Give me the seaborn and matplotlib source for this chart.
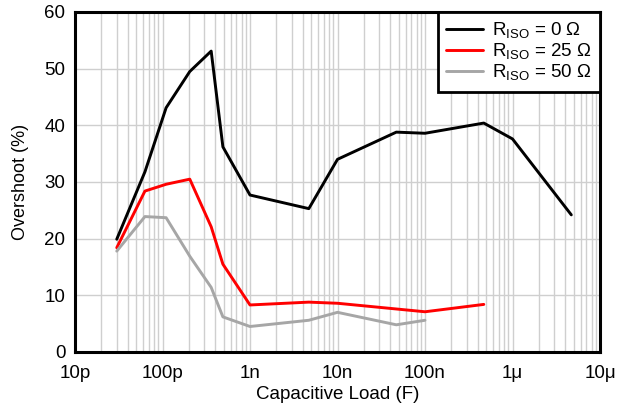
import matplotlib
matplotlib.use("Agg")
import matplotlib.pyplot as plt
import seaborn as sns
import pandas as pd
import numpy as np
from matplotlib.ticker import FixedLocator, LogLocator, NullFormatter

sns.set_theme(style="white")
plt.rcParams['font.family'] = ['Liberation Sans', 'DejaVu Sans']
plt.rcParams['mathtext.fontset'] = 'custom'
plt.rcParams['mathtext.rm'] = 'Liberation Sans'

# Data
cap_r0 = [30e-12, 63e-12, 110e-12, 205e-12, 360e-12, 490e-12, 1e-9, 4.7e-9, 10e-9, 47e-9, 100e-9, 470e-9, 1e-6, 4.7e-6]
ovs_r0 = [19.9, 31.8, 43.1, 49.5, 53.1, 36.2, 27.7, 25.3, 34.0, 38.8, 38.6, 40.4, 37.6, 24.2]

cap_r25 = [30e-12, 63e-12, 110e-12, 205e-12, 360e-12, 490e-12, 1e-9, 4.7e-9, 10e-9, 100e-9, 470e-9]
ovs_r25 = [18.4, 28.4, 29.6, 30.5, 22.1, 15.5, 8.3, 8.8, 8.6, 7.1, 8.4]

cap_r50 = [30e-12, 63e-12, 110e-12, 205e-12, 360e-12, 490e-12, 1e-9, 4.7e-9, 10e-9, 47e-9, 100e-9]
ovs_r50 = [17.8, 23.9, 23.7, 16.9, 11.4, 6.2, 4.5, 5.6, 7.0, 4.8, 5.6]

series_names = ["R$_{\\mathregular{ISO}}$ = 0 \u03a9",
                "R$_{\\mathregular{ISO}}$ = 25 \u03a9",
                "R$_{\\mathregular{ISO}}$ = 50 \u03a9"]
colors = ["#000000", "#ff0000", "#a6a6a6"]

x_ticks = [1e-11, 1e-10, 1e-9, 1e-8, 1e-7, 1e-6, 1e-5]
x_ticklabels = ["10p", "100p", "1n", "10n", "100n", "1\u03bc", "10\u03bc"]
y_ticks = [0, 10, 20, 30, 40, 50, 60]

frames = []
for name, cx, cy in zip(series_names, [cap_r0, cap_r25, cap_r50], [ovs_r0, ovs_r25, ovs_r50]):
    frames.append(pd.DataFrame({"cap": cx, "ovs": cy, "series": name}))
df = pd.concat(frames, ignore_index=True)

fig = plt.figure(figsize=(6.3, 4.16), dpi=100)
ax = fig.add_axes([75/630, 1-352/416, 525/630, 340/416])

sns.lineplot(data=df, x="cap", y="ovs", hue="series", palette=colors,
             hue_order=series_names, sort=False, estimator=None,
             linewidth=2.1, ax=ax, legend=True)

ax.set_xscale("log")
ax.set_xlim(1e-11, 1e-5)
ax.set_ylim(0, 60)
ax.xaxis.set_major_locator(FixedLocator(x_ticks))
ax.set_xticklabels(x_ticklabels)
ax.xaxis.set_minor_locator(LogLocator(base=10, subs=np.arange(2, 10), numticks=100))
ax.xaxis.set_minor_formatter(NullFormatter())
ax.set_yticks(y_ticks)
ax.grid(True, which="major", color="#cfcfcf", linewidth=1.0)
ax.grid(True, which="minor", axis="x", color="#cfcfcf", linewidth=1.0)
ax.set_axisbelow(True)
ax.tick_params(axis="both", which="both", length=0, labelsize=13.5, colors="black")
ax.tick_params(axis="x", pad=9.5)
ax.tick_params(axis="y", pad=7)
for s in ax.spines.values():
    s.set_color("black")
    s.set_linewidth(2.2)
    s.set_visible(True)

ax.set_xlabel("Capacitive Load (F)", fontsize=13.5, color="black", labelpad=3)
ax.set_ylabel("Overshoot (%)", fontsize=13, color="black", labelpad=11)

leg = ax.legend(loc="upper right", borderaxespad=0, fontsize=13.5, frameon=True,
                fancybox=False, handlelength=1.95, handletextpad=0.5,
                labelspacing=0.05, borderpad=0.45)
leg.get_frame().set_edgecolor("black")
leg.get_frame().set_linewidth(2.0)
leg.get_frame().set_alpha(1)
for t in leg.get_texts():
    t.set_color("black")

fig.savefig("out.png", dpi=100)
